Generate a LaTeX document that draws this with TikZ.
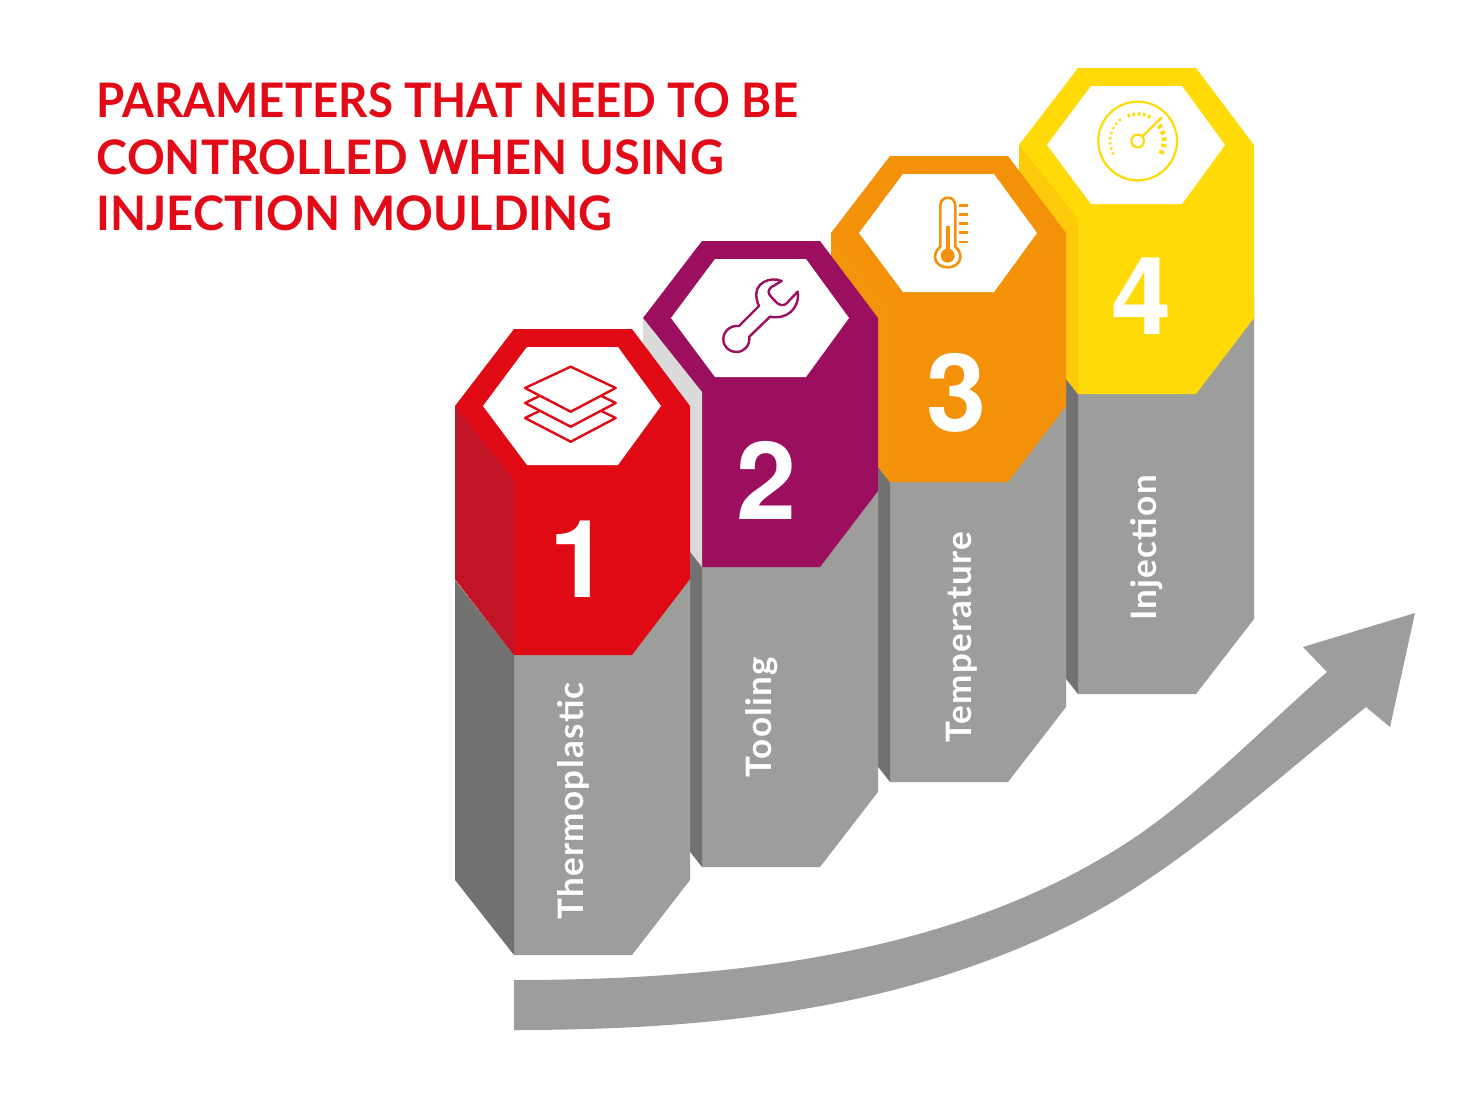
\documentclass[tikz,border=0pt]{standalone}
\usepackage{fontspec}
\setmainfont{Lato}
\newfontfamily\numfont{TeX Gyre Heros}
\newfontfamily\headfont[FakeStretch=.96]{Lato}
\newfontfamily\headfontwide[FakeStretch=.985]{Lato}
\newfontfamily\namefont[LetterSpace=3.8]{Lato}
\definecolor{tred}{HTML}{E30A17}
\definecolor{cred}{HTML}{E00A15}
\definecolor{cdred}{HTML}{C11526}
\definecolor{cpur}{HTML}{9B0F5E}
\definecolor{corg}{HTML}{F39208}
\definecolor{cdorg}{HTML}{F3950A}
\definecolor{cyel}{HTML}{FFDA07}
\definecolor{cdyel}{HTML}{FDC90B}
\definecolor{cgrey}{HTML}{9D9D9B}
\definecolor{cdgrey}{HTML}{727271}
\definecolor{clgrey}{HTML}{DADADA}
\tikzset{
  titleline/.style={anchor=base west,inner sep=0pt,text=tred,font=\fontsize{47.6}{56}\selectfont\headfont\bfseries},
  titlewide/.style={titleline,font=\fontsize{47.6}{56}\selectfont\headfontwide\bfseries},
  numlabel/.style={inner sep=0pt,text=white,font=\fontsize{108}{108}\selectfont\numfont\bfseries},
  namelabel/.style={anchor=base,rotate=90,inner sep=0pt,text=white,font=\fontsize{35}{35}\selectfont\namefont\bfseries},
  icon/.style={line width=2.4pt,line join=round,line cap=round},
}
\newcommand{\hexcolumn}[4]{% dx, dy, main, left face
  \begin{scope}[shift={(#1,#2)}]
    \fill[cgrey] (514,560) -- (690,560) -- (690,880) -- (632,955) -- (514,955) -- cycle;
    \fill[cdgrey] (455,580) -- (514,655) -- (514,955) -- (455,880) -- cycle;
    \fill[#3] (514,329) -- (632,329) -- (690,406) -- (690,579) -- (632,655) -- (514,655) -- (455,579) -- (455,406) -- cycle;
    \fill[#4] (455,406) -- (514,480) -- (514,655) -- (455,579) -- cycle;
    \fill[white] (483,406) -- (527,347) -- (618,347) -- (661,406) -- (618,465) -- (527,465) -- cycle;
  \end{scope}
}
\begin{document}
\begin{tikzpicture}[x=1pt,y=-1pt]
\useasboundingbox (0,0) rectangle (1460,1095);
\fill[white] (0,0) rectangle (1460,1095);
% columns, back to front
\hexcolumn{564}{-261}{cyel}{cdyel}
\hexcolumn{376}{-173}{corg}{cdorg}
\hexcolumn{188}{-88}{cpur}{clgrey}
\hexcolumn{0}{0}{cred}{cdred}
% title
\node[titleline] (t1) at (96.5,117.5) {PARAMETERS THAT NEED TO BE};
\node[titlewide] (t2) at (96.5,174.5) {CONTROLLED WHEN USING};
\node[titlewide] (t3) at (96.5,230.5) {INJECTION MOULDING};
% numbers
\node[numlabel] (n1) at (580,559) {1};
\node[numlabel] (n2) at (767,480) {2};
\node[numlabel] (n3) at (957,393) {3};
\node[numlabel] (n4) at (1142,296) {4};
% names
\node[namelabel] (l1) at (583,801) {Thermoplastic};
\node[namelabel] (l2) at (771,717) {Tooling};
\node[namelabel] (l3) at (971,637) {Temperature};
\node[namelabel] (l4) at (1156,548) {Injection};
% layers icon
\begin{scope}[icon,draw=cred,fill=white]
  \filldraw (525,418) -- (570.7,396) -- (615.7,418) -- (570.7,441.7) -- cycle;
  \filldraw (525,403) -- (570.7,381) -- (615.7,403) -- (570.7,426.7) -- cycle;
  \filldraw (525,388) -- (570.7,366.7) -- (615.7,388) -- (570.7,411.7) -- cycle;
\end{scope}
% wrench icon
\begin{scope}[shift={(710,270)},x=.33333pt,y=-.33333pt]
  \draw[icon,cpur,fill=white] (215,33) .. controls (180,18) and (130,40) .. (140,85)
    .. controls (142,95) and (143,102) .. (147,108) -- (87,168)
    .. controls (60,165) and (40,185) .. (40,207)
    .. controls (40,232) and (60,247) .. (80,246)
    .. controls (105,245) and (120,225) .. (118,200) -- (180,140)
    .. controls (225,150) and (270,120) .. (263,65) -- (228,102)
    .. controls (218,108) and (208,105) .. (200,98) -- (183,80)
    .. controls (172,68) and (175,60) .. (183,52) -- cycle;
\end{scope}
% thermometer icon
\begin{scope}[shift={(820,60)},x=.33333pt,y=-.33333pt]
  \draw[icon,corg,line width=2.6pt] (361,560) -- (361,437) .. controls (361,405) and (406,405) .. (406,437) -- (406,560)
    .. controls (435,585) and (420,622) .. (383,622) .. controls (346,622) and (331,585) .. (361,560) -- cycle;
  \fill[corg] (383,587) circle (21);
  \fill[corg] (377,498) rectangle (390,590);
  \foreach \yy in {436,463,491,518,546}
    \draw[icon,corg,line width=2.6pt,line cap=butt] (418,\yy) -- (443,\yy);
\end{scope}
% gauge icon
\begin{scope}[shift={(820,60)},x=.33333pt,y=-.33333pt]
  \draw[cyel,line width=2.2pt] (953,243) circle (118);
  \draw[cyel,line width=2.2pt] (953,243) circle (19);
  \draw[cyel,line width=2.2pt] (966,230) -- (1026,172);
  \foreach \aa in {-207,-196,...,-120}
    \draw[cyel,line width=2.2pt] ({953+79*cos(\aa)},{243+79*sin(\aa)}) -- ({953+86*cos(\aa)},{243+86*sin(\aa)});
  \foreach \aa in {-109,-98,...,-60}
    \draw[cyel,line width=2.8pt] ({953+76*cos(\aa)},{243+76*sin(\aa)}) -- ({953+86*cos(\aa)},{243+86*sin(\aa)});
  \foreach \aa in {-33,-18,-4,10,25}
    \draw[cyel,line width=3.4pt] ({953+72*cos(\aa)},{243+72*sin(\aa)}) -- ({953+87*cos(\aa)},{243+87*sin(\aa)});
\end{scope}
% rising arrow
\fill[cgrey] (514,980) .. controls (740,980) and (961,952) .. (1131,840)
  .. controls (1196,797) and (1262,729) .. (1327,672)
  -- (1303,647) -- (1415,613) -- (1390,727) -- (1366,707)
  .. controls (1266,788) and (1174,873) .. (1074,923)
  .. controls (904,1008) and (720,1030) .. (514,1030) -- cycle;
\end{tikzpicture}
\end{document}
